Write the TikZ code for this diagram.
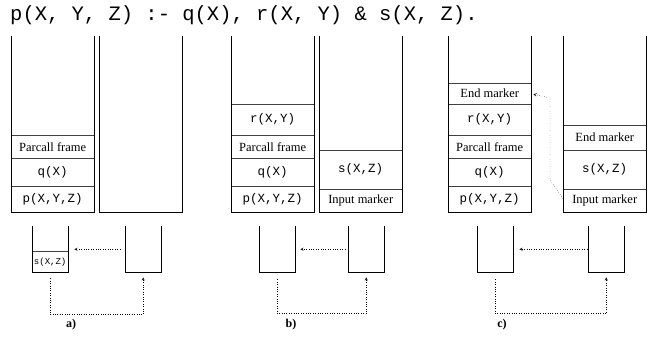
\documentclass[tikz,border=0pt]{standalone}
\usepackage{fontspec}
\setmainfont{Liberation Serif}
\setmonofont{Liberation Mono}
\usetikzlibrary{arrows}

\tikzstyle{stack} = [rectangle, minimum width=83pt, minimum height=176pt, inner sep=0pt, anchor=north west]
\tikzstyle{cell} = [rectangle, minimum width=83pt, inner sep=0pt, anchor=north west, draw=black!75, font=\fontsize{12.5}{14}\selectfont]
\tikzstyle{cup} = [rectangle, minimum width=36pt, minimum height=46pt, inner sep=0pt, anchor=north west]
\tikzstyle{wall} = [line width=0.8pt]
\tikzstyle{link} = [dotted, ->, >=stealth]
\tikzstyle{caption} = [font=\bfseries\fontsize{12}{14}\selectfont]

\begin{document}
\begin{tikzpicture}[x=1pt, y=-1pt]
\useasboundingbox (0,0) rectangle (648,338);

\node (rule) [anchor=base west, inner sep=0pt, font=\ttfamily\fontsize{20.5}{24}\selectfont] at (10,20) {p(X, Y, Z) :- q(X), r(X, Y) \& s(X, Z).};

% a)
\node (La) [stack] at (11,36) {};
\node (Ra) [stack] at (99,36) {};
\node (pa) [cell, minimum height=26pt] at (11,186) {\texttt{p(X,Y,Z)}};
\node (qa) [cell, minimum height=28pt] at (11,158) {\texttt{q(X)}};
\node (fa) [cell, minimum height=23pt] at (11,135) {Parcall frame};
\draw [wall] (La.north west) -- (La.south west) -- (La.south east) -- (La.north east);
\draw [wall] (Ra.north west) -- (Ra.south west) -- (Ra.south east) -- (Ra.north east);

\node (sla) [cup] at (32,226) {};
\node (sra) [cup] at (125,226) {};
\node (sza) [cell, minimum width=36pt, minimum height=21pt, font=\fontsize{9}{10}\selectfont] at (32,251) {\texttt{s(X,Z)}};
\draw [wall] (sla.north west) -- (sla.south west) -- (sla.south east) -- (sla.north east);
\draw [wall] (sra.north west) -- (sra.south west) -- (sra.south east) -- (sra.north east);
\draw [link, shorten <=5pt, shorten >=6pt] (sra.west) -- (sla.east);
\draw [link, shorten <=6pt, shorten >=5pt] (sla.south) -- ++(0,42) -| (sra.south);
\node (lba) [caption] at (71,325) {a)};

% b)
\node (Lb) [stack] at (231,36) {};
\node (Rb) [stack] at (319,36) {};
\node (pb) [cell, minimum height=26pt] at (231,186) {\texttt{p(X,Y,Z)}};
\node (qb) [cell, minimum height=28pt] at (231,158) {\texttt{q(X)}};
\node (fb) [cell, minimum height=23pt] at (231,135) {Parcall frame};
\node (rb) [cell, minimum height=31pt] at (231,104) {\texttt{r(X,Y)}};
\node (ib) [cell, minimum height=23pt] at (319,189) {Input marker};
\node (sb) [cell, minimum height=39pt] at (319,150) {\texttt{s(X,Z)}};
\draw [wall] (Lb.north west) -- (Lb.south west) -- (Lb.south east) -- (Lb.north east);
\draw [wall] (Rb.north west) -- (Rb.south west) -- (Rb.south east) -- (Rb.north east);

\node (slb) [cup] at (259,226) {};
\node (srb) [cup] at (348,226) {};
\draw [wall] (slb.north west) -- (slb.south west) -- (slb.south east) -- (slb.north east);
\draw [wall] (srb.north west) -- (srb.south west) -- (srb.south east) -- (srb.north east);
\draw [link, shorten <=3pt, shorten >=5pt] (srb.west) -- (slb.east);
\draw [link, shorten <=7pt, shorten >=5pt] (slb.south) -- ++(0,41) -| (srb.south);
\node (lbb) [caption] at (291,325) {b)};

% c)
\node (Lc) [stack] at (448,36) {};
\node (Rc) [stack] at (563,36) {};
\node (pc) [cell, minimum height=26pt] at (448,186) {\texttt{p(X,Y,Z)}};
\node (qc) [cell, minimum height=28pt] at (448,158) {\texttt{q(X)}};
\node (fc) [cell, minimum height=23pt] at (448,135) {Parcall frame};
\node (rc) [cell, minimum height=31pt] at (448,104) {\texttt{r(X,Y)}};
\node (ec) [cell, minimum height=21pt] at (448,83) {End marker};
\node (ic) [cell, minimum height=23pt] at (563,189) {Input marker};
\node (sc) [cell, minimum height=39pt] at (563,150) {\texttt{s(X,Z)}};
\node (fec) [cell, minimum height=25pt] at (563,125) {End marker};
\draw [wall] (Lc.north west) -- (Lc.south west) -- (Lc.south east) -- (Lc.north east);
\draw [wall] (Rc.north west) -- (Rc.south west) -- (Rc.south east) -- (Rc.north east);
\coordinate (cbend) at (550,180);
\coordinate (ctop) at (550,98);
\draw [link, shorten >=2pt] ([yshift=2pt]ic.west) -- (cbend) -- (ctop) -- (ec.east);

\node (slc) [cup] at (477,226) {};
\node (src) [cup] at (588,226) {};
\draw [wall] (slc.north west) -- (slc.south west) -- (slc.south east) -- (slc.north east);
\draw [wall] (src.north west) -- (src.south west) -- (src.south east) -- (src.north east);
\draw [link, shorten <=1pt, shorten >=6pt] (src.west) -- (slc.east);
\draw [link, shorten <=7pt, shorten >=5pt] (slc.south) -- ++(0,41) -| (src.south);
\node (lbc) [caption] at (502,325) {c)};
\end{tikzpicture}
\end{document}
